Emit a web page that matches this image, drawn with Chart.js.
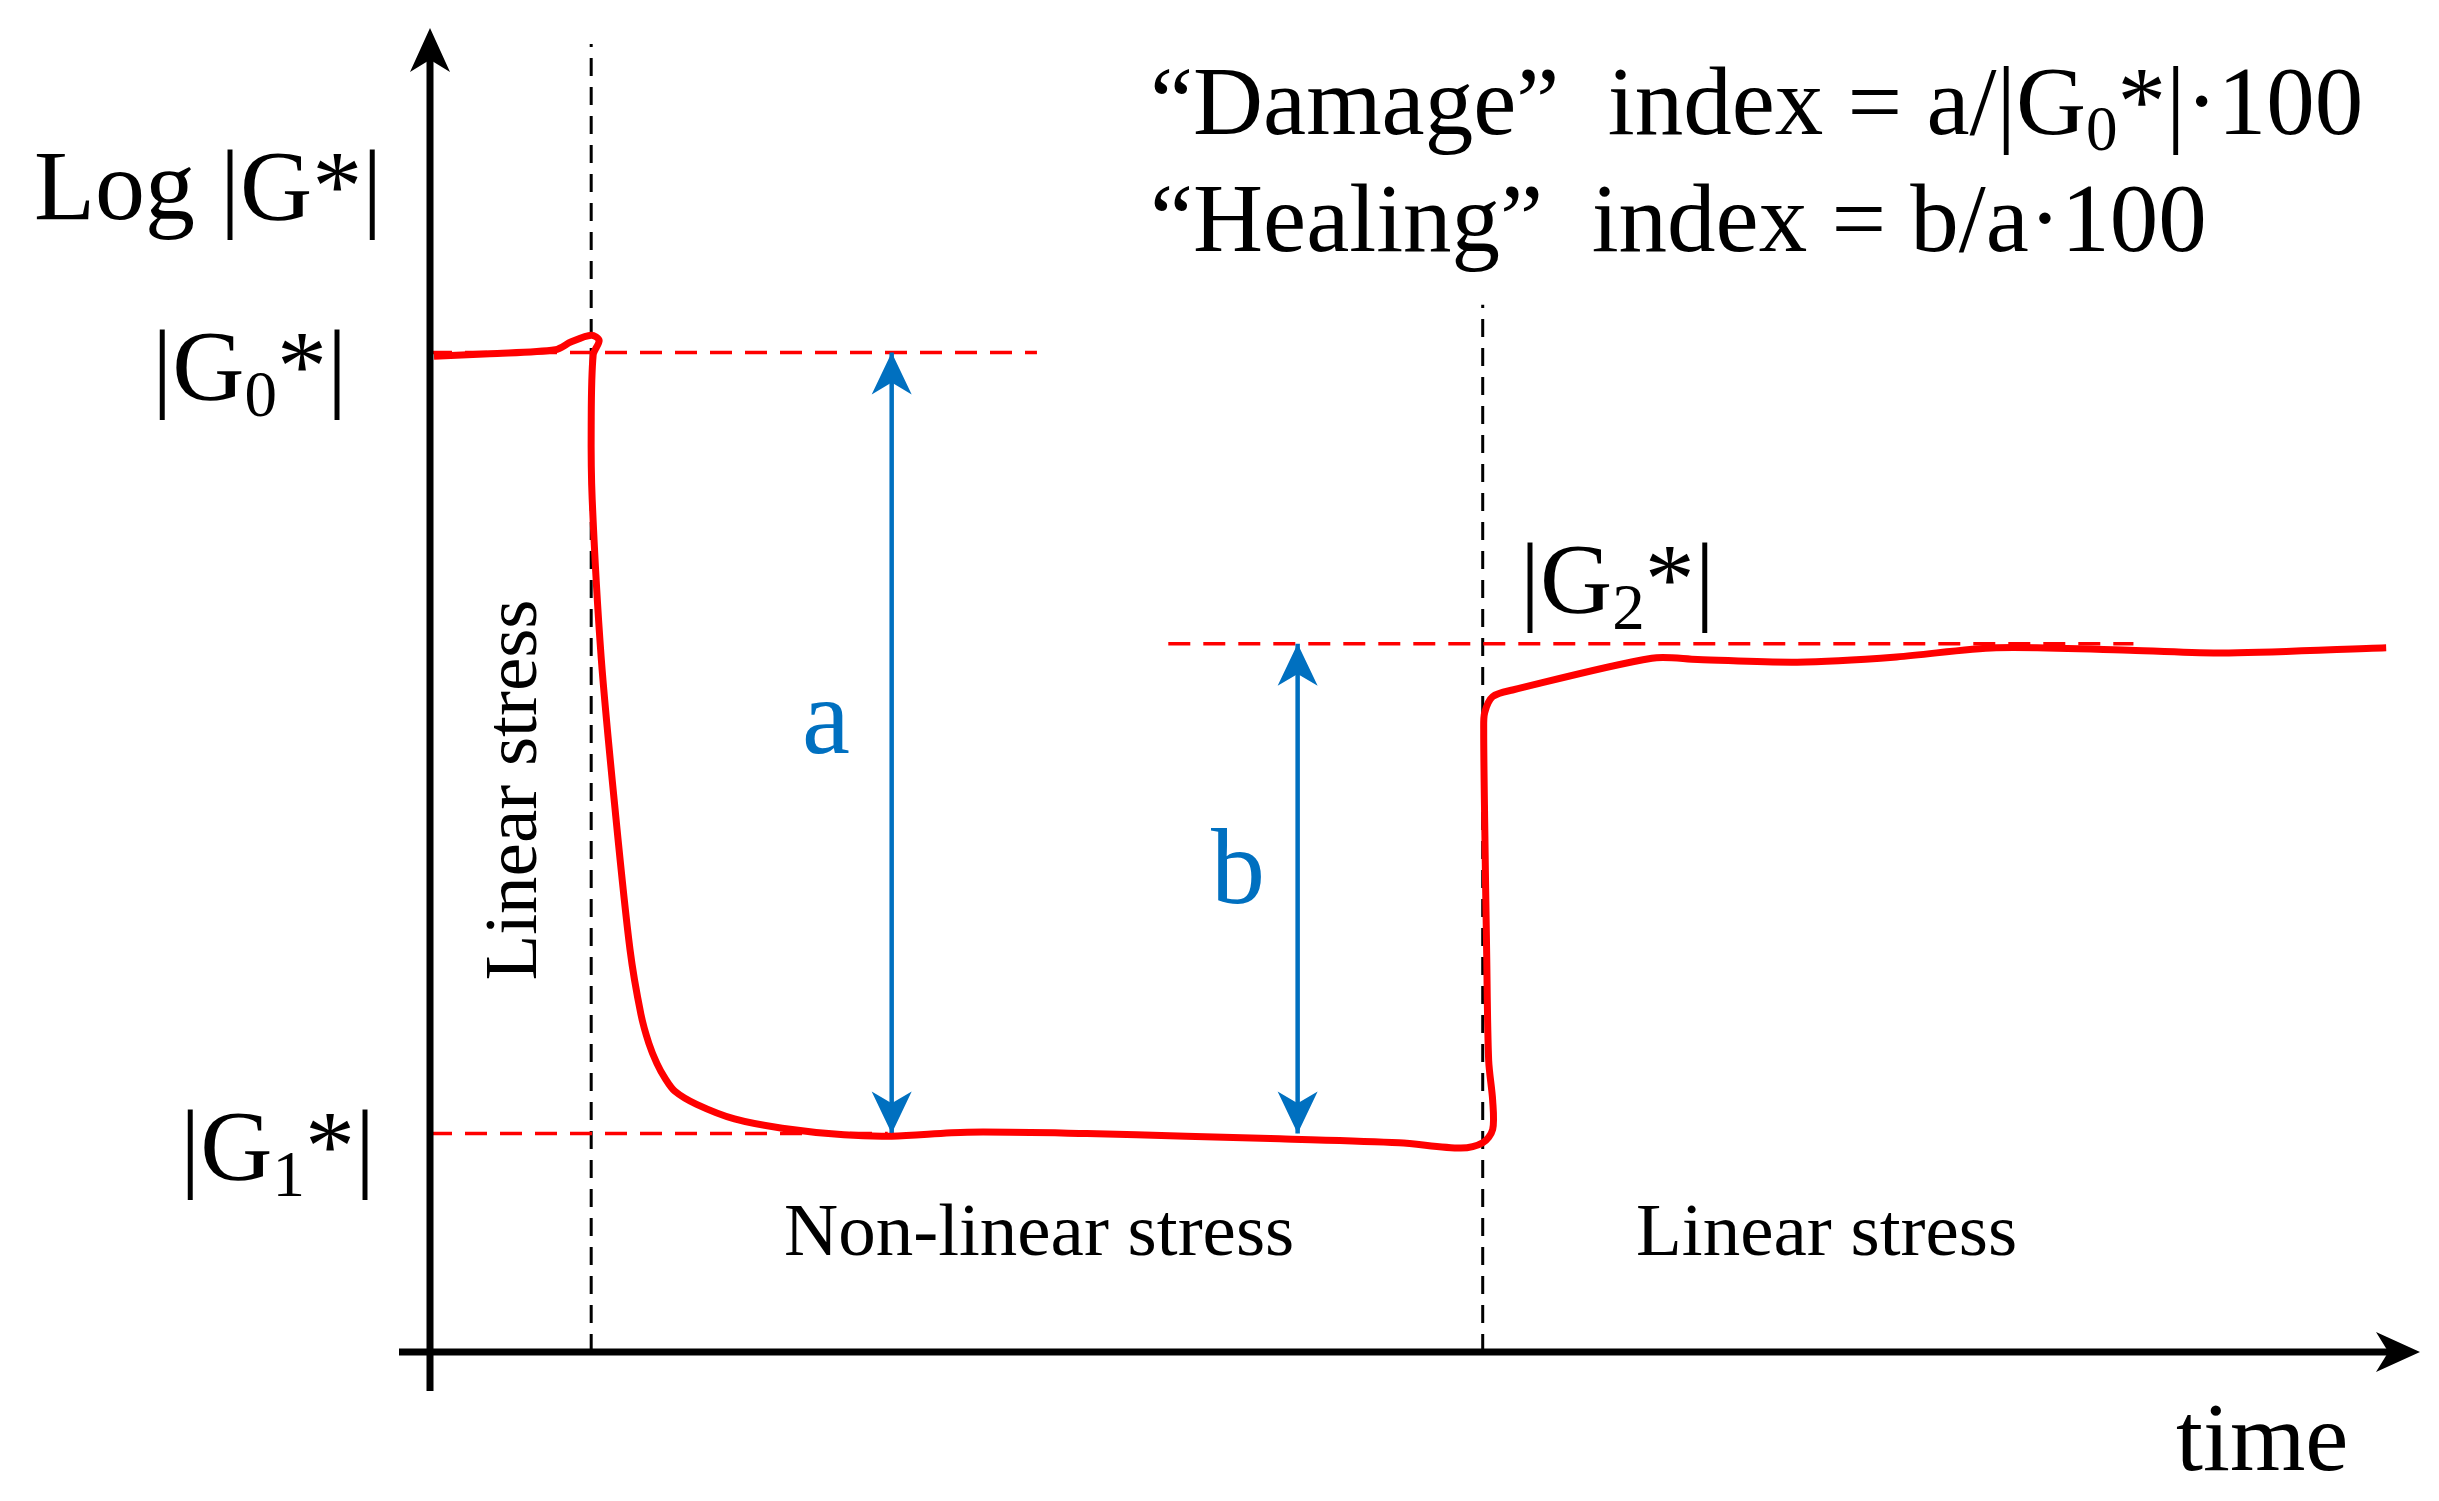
<!DOCTYPE html>
<html>
<head>
<meta charset="utf-8">
<script src="https://cdn.jsdelivr.net/npm/chart.js@4.4.1/dist/chart.umd.min.js"></script>
<style>
html, body { margin: 0; padding: 0; background: #fff; }
#wrap { width: 2439px; height: 1501px; }
</style>
</head>
<body>
<div id="wrap"><canvas id="myChart"></canvas></div>
<script>
// time / log|G*| in arbitrary units (0..100 along each axis)
const curveTime = [0.2, 3, 6.3, 7.1, 8.1, 8.5, 8.2, 8.1, 8.15, 8.6, 9.3, 10.05, 10.6, 11.0, 11.4, 11.8, 12.3, 13.4, 15.3, 17.7, 20.8, 23.2, 27, 33, 38, 42.7, 48.7, 51.8, 52.9, 53.4, 53.4, 53.2, 53.1, 53.0, 52.95, 53.0, 53.4, 54.4, 61.4, 63.7, 68.7, 73.7, 78.7, 85.4, 90.4, 98.3];
const curveLogG = [75.2, 75.4, 75.7, 76.3, 76.8, 76.4, 75.3, 70, 64.4, 52.5, 41, 30.4, 25.5, 23.3, 21.8, 20.7, 19.7, 18.7, 17.6, 16.9, 16.4, 16.3, 16.6, 16.5, 16.3, 16.1, 15.8, 15.4, 15.8, 16.8, 19.0, 22, 30, 40, 47, 48.3, 49.5, 50.0, 52.4, 52.3, 52.1, 52.5, 53.2, 53.0, 52.8, 53.2];

const levelNames = ['G0', 'G1', 'G2'];
const levelValues = [75.5, 16.5, 53.5];
const levelFrom = [0, 0, 37.1];
const levelTo = [30.5, 23, 85.6];

const stageBounds = [8.1, 52.9];
const stageTops = [98.8, 79.1];

const arrowNames = ['a', 'b'];
const arrowTime = [23.2, 43.6];
const arrowFrom = [16.5, 16.5];   // G1
const arrowTo = [75.5, 53.5];     // G0, G2

const SERIF = '"Liberation Serif", "Times New Roman", serif';
const BLUE = '#0070C0';

const datasets = [];
datasets.push({
    label: 'curve',
    data: curveTime.map((t, i) => ({ x: t, y: curveLogG[i] })),
    borderColor: '#FF0000',
    borderWidth: 7,
    tension: 0.3,
    pointRadius: 0,
    order: 0
});
for (let i = 0; i < levelNames.length; i++) {
    datasets.push({
        label: levelNames[i],
        data: [{ x: levelFrom[i], y: levelValues[i] }, { x: levelTo[i], y: levelValues[i] }],
        borderColor: '#FF0000',
        borderWidth: 3.5,
        borderDash: [22, 13],
        pointRadius: 0,
        order: 2
    });
}
for (let i = 0; i < stageBounds.length; i++) {
    datasets.push({
        label: 'stage' + i,
        data: [{ x: stageBounds[i], y: 0 }, { x: stageBounds[i], y: stageTops[i] }],
        borderColor: '#000',
        borderWidth: 3,
        borderDash: [18, 11],
        pointRadius: 0,
        order: 3
    });
}
for (let i = 0; i < arrowNames.length; i++) {
    datasets.push({
        label: arrowNames[i],
        data: [{ x: arrowTime[i], y: arrowFrom[i] }, { x: arrowTime[i], y: arrowTo[i] }],
        borderColor: BLUE,
        borderWidth: 4.5,
        pointRadius: 0,
        order: 1
    });
}

// arrow head: tip at (x,y), pointing in direction (dx,dy)
function head(ctx, x, y, dx, dy, len, half, color) {
    const px = -dy, py = dx;
    ctx.save();
    ctx.fillStyle = color;
    ctx.beginPath();
    ctx.moveTo(x, y);
    ctx.lineTo(x - dx * len + px * half, y - dy * len + py * half);
    ctx.lineTo(x - dx * len * 0.72, y - dy * len * 0.72);
    ctx.lineTo(x - dx * len - px * half, y - dy * len - py * half);
    ctx.closePath();
    ctx.fill();
    ctx.restore();
}

// text with subscripts: parts = [[text, isSub], ...]
function rich(ctx, parts, x, y, size, align) {
    let w = 0;
    parts.forEach(p => {
        ctx.font = (p[1] ? size * 0.65 : size) + 'px ' + SERIF;
        w += ctx.measureText(p[0]).width;
    });
    let cx = align === 'right' ? x - w : (align === 'center' ? x - w / 2 : x);
    ctx.textAlign = 'left';
    ctx.textBaseline = 'alphabetic';
    parts.forEach(p => {
        ctx.font = (p[1] ? size * 0.65 : size) + 'px ' + SERIF;
        ctx.fillText(p[0], cx, p[1] ? y + size * 0.17 : y);
        cx += ctx.measureText(p[0]).width;
    });
}

const sketch = {
    id: 'sketch',
    afterDraw(chart) {
        const ctx = chart.ctx;
        const xs = chart.scales.x, ys = chart.scales.y;
        const x0 = xs.getPixelForValue(0), y0 = ys.getPixelForValue(0);
        const xEnd = xs.getPixelForValue(100), yEnd = ys.getPixelForValue(100);

        // axes
        ctx.save();
        ctx.strokeStyle = '#000';
        ctx.lineWidth = 7;
        ctx.beginPath();
        ctx.moveTo(x0, y0 + 39);
        ctx.lineTo(x0, yEnd + 30);
        ctx.moveTo(x0 - 31, y0);
        ctx.lineTo(xEnd - 30, y0);
        ctx.stroke();
        ctx.restore();
        head(ctx, x0, yEnd, 0, -1, 44, 20, '#000');
        head(ctx, xEnd, y0, 1, 0, 44, 20, '#000');

        // blue arrow heads
        for (let i = 0; i < arrowNames.length; i++) {
            const ax = xs.getPixelForValue(arrowTime[i]);
            head(ctx, ax, ys.getPixelForValue(arrowTo[i]), 0, -1, 42, 20, BLUE);
            head(ctx, ax, ys.getPixelForValue(arrowFrom[i]), 0, 1, 42, 20, BLUE);
        }

        ctx.save();
        ctx.fillStyle = '#000';
        rich(ctx, [['Log |G*|', false]], 34, 219, 100, 'left');
        rich(ctx, [['|G', false], ['0', true], ['*|', false]], 347, ys.getPixelForValue(levelValues[0]) + 47, 100, 'right');
        rich(ctx, [['|G', false], ['1', true], ['*|', false]], 375, ys.getPixelForValue(levelValues[1]) + 45, 100, 'right');
        rich(ctx, [['|G', false], ['2', true], ['*|', false]], 1520, ys.getPixelForValue(levelValues[2]) - 32, 100, 'left');

        rich(ctx, [['\u201CDamage\u201D  index = a/|G', false], ['0', true], ['*|\u00B7100', false]], 1150, 134, 97, 'left');
        rich(ctx, [['\u201CHealing\u201D  index = b/a\u00B7100', false]], 1150, 251, 97, 'left');

        rich(ctx, [['Non-linear stress', false]], 784, 1255, 75, 'left');
        rich(ctx, [['Linear stress', false]], 1636, 1255, 75, 'left');
        rich(ctx, [['time', false]], 2176, 1470, 97, 'left');

        ctx.translate(536, 790);
        ctx.rotate(-Math.PI / 2);
        rich(ctx, [['Linear stress', false]], 0, 0, 75, 'center');
        ctx.restore();

        ctx.save();
        ctx.fillStyle = BLUE;
        rich(ctx, [['a', false]], 826, 753, 108, 'center');
        rich(ctx, [['b', false]], 1238, 903, 108, 'center');
        ctx.restore();
    }
};

const chart = new Chart(document.getElementById('myChart'), {
    type: 'line',
    data: { datasets: datasets },
    options: {
        responsive: true,
        maintainAspectRatio: false,
        animation: false,
        devicePixelRatio: 1,
        layout: { padding: { left: 430, right: 19, top: 28, bottom: 149 } },
        plugins: { legend: { display: false }, tooltip: { enabled: false } },
        scales: {
            x: { type: 'linear', min: 0, max: 100, display: false },
            y: { type: 'linear', min: 0, max: 100, display: false }
        }
    },
    plugins: [sketch]
});
</script>
</body>
</html>
